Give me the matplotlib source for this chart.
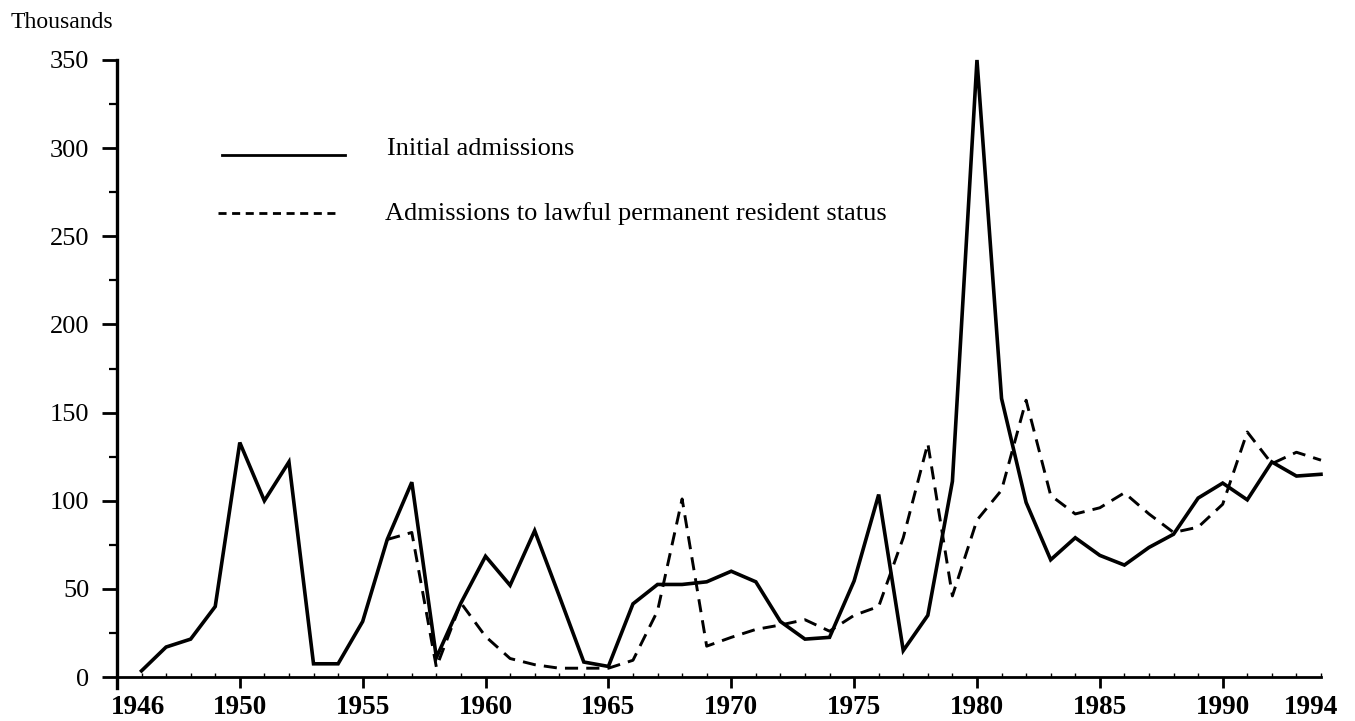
import matplotlib
matplotlib.use("Agg")
import matplotlib.pyplot as plt
from matplotlib.ticker import MultipleLocator, FixedLocator
from matplotlib.lines import Line2D

plt.rcParams['font.family'] = ['Liberation Serif', 'DejaVu Serif']

years_initial = list(range(1946, 1995))
initial_admissions = [
    3.5, 17, 21.5, 40, 133, 100, 122, 7.5, 7.5, 31.5,
    78, 110.5, 11, 42, 68.5, 52, 83, 46, 8.5, 6,
    41.5, 52.5, 52.5, 54, 60, 54, 31.5, 21.5, 22.5, 54.5,
    103.5, 15, 35, 111, 350, 158, 99, 66.5, 79, 69,
    63.5, 73.5, 81, 101.5, 110, 100.5, 122, 114, 115,
]

years_lpr = list(range(1956, 1995))
lpr_admissions = [
    78, 82, 5.5, 42, 23, 10.5, 7, 5, 5, 5,
    9.5, 37.5, 101, 17.5, 22.5, 27, 29.5, 32.5, 26, 35,
    40, 79, 132.5, 46, 89, 106, 157, 103, 92.5, 96,
    104.5, 92.5, 82, 85, 98, 139, 121, 127.5, 123,
]

x_tick_labels = ['1946', '1950', '1955', '1960', '1965', '1970',
                 '1975', '1980', '1985', '1990', '1994']
y_tick_values = [0, 50, 100, 150, 200, 250, 300, 350]
legend_labels = ['Initial admissions',
                 'Admissions to lawful permanent resident status']

fig = plt.figure(figsize=(13.55, 7.21), dpi=100)
ax = fig.add_axes([0.0863, 0.061, 0.8886, 0.8558])

ax.plot(years_initial, initial_admissions, color='black', lw=2.6,
        solid_joinstyle='miter', clip_on=False)
ax.plot(years_lpr, lpr_admissions, color='black', lw=2.1,
        dashes=(4.5, 2.8), clip_on=False)

ax.set_xlim(1945, 1994)
ax.set_ylim(0, 350)

for s in ['top', 'right']:
    ax.spines[s].set_visible(False)
ax.spines['left'].set_linewidth(2.4)
ax.spines['bottom'].set_linewidth(2.0)
ax.spines['left'].set_bounds(-6.5, 350)

# x ticks
xpos = [1945.85, 1950, 1955, 1960, 1965, 1970, 1975, 1980, 1985, 1990, 1993.6]
ax.xaxis.set_major_locator(FixedLocator(xpos))
ax.set_xticklabels(x_tick_labels, fontsize=19.5, fontweight='bold')
ax.xaxis.set_minor_locator(MultipleLocator(1))
ax.tick_params(axis='x', which='major', direction='out', length=8, width=2.0, pad=5)
ax.tick_params(axis='x', which='minor', direction='in', length=3, width=1.0)
xt = ax.xaxis.get_major_ticks()
for t in (xt[0], xt[-1]):
    t.tick1line.set_visible(False)

# y ticks
ax.set_yticks(y_tick_values)
ax.set_yticklabels([str(v) for v in y_tick_values], fontsize=19)
ax.yaxis.set_minor_locator(MultipleLocator(25))
ax.tick_params(axis='y', which='major', direction='out', length=11, width=2.0, pad=9)
ax.tick_params(axis='y', which='minor', direction='out', length=6, width=1.6)

fig.text(0.008, 0.961, 'Thousands', fontsize=17, ha='left', va='baseline')

# legend drawn manually
ax.add_line(Line2D([0.0872, 0.1894], [0.846, 0.846], transform=ax.transAxes,
                   color='black', lw=2.0))
ax.add_line(Line2D([0.0839, 0.1852], [0.752, 0.752], transform=ax.transAxes,
                   color='black', lw=2.0, dashes=(2.9, 2.0)))
ax.text(0.2243, 0.855, legend_labels[0], transform=ax.transAxes,
        fontsize=19, ha='left', va='center')
ax.text(0.2226, 0.751, legend_labels[1], transform=ax.transAxes,
        fontsize=19, ha='left', va='center')

fig.savefig('out.png', dpi=100)
